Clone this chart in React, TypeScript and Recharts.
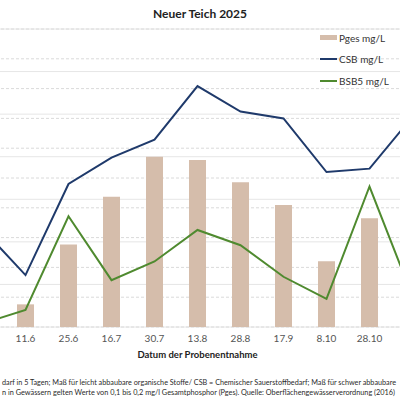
import React from "react";
import {
  ComposedChart,
  Bar,
  Line,
  XAxis,
  YAxis,
  CartesianGrid,
  Legend,
} from "recharts";

// Probenahme-Termine (erster und letzter liegen außerhalb des Ausschnitts)
const dates = ["", "11.6", "25.6", "16.7", "30.7", "13.8", "28.8", "17.9", "8.10", "28.10", " "];
const pges = [null, 0.0076, 0.0277, 0.0437, 0.0571, 0.056, 0.0486, 0.0409, 0.0221, 0.0365, null];
const csb = [11.5, 6.1, 16.8, 19.9, 22.0, 28.3, 25.3, 24.5, 18.2, 18.6, 24.7];
const bsb = [0.4, 2.0, 13.0, 5.5, 7.7, 11.4, 9.6, 5.9, 3.3, 16.5, 3.6];

const lineTicks = [0, 5, 10, 15, 20, 25, 30, 35];
const pTicks = [0, 0.01, 0.02, 0.03, 0.04, 0.05, 0.06, 0.07, 0.08, 0.09, 0.1];
const legendOrder = ["Pges mg/L", "CSB mg/L", "BSB5 mg/L"];

const data = dates.map((date, i) => ({
  date,
  pges: pges[i],
  csb: csb[i],
  bsb: bsb[i],
}));

const FONT = "Lato, 'Open Sans', sans-serif";

const LegendBox = ({ payload }: any) => {
  const items = [...(payload || [])].sort(
    (a: any, b: any) => legendOrder.indexOf(a.value) - legendOrder.indexOf(b.value)
  );
  return (
    <div style={{ fontFamily: FONT, fontSize: 10, color: "#333" }}>
      {items.map((p: any) => (
        <div key={p.value} style={{ display: "flex", alignItems: "center", height: 21.5 }}>
          <span
            style={{
              display: "inline-block",
              width: 17,
              height: p.type === "rect" ? 5 : 2,
              background: p.color,
              marginRight: 2,
            }}
          />
          {p.value}
        </div>
      ))}
    </div>
  );
};

export default function App() {
  return (
    <div
      style={{
        position: "fixed",
        left: 0,
        top: 0,
        width: 400,
        height: 400,
        overflow: "hidden",
        background: "#fff",
        fontFamily: FONT,
      }}
    >
      <div
        style={{
          position: "absolute",
          top: 6,
          left: 0,
          width: 400,
          textAlign: "center",
          fontWeight: 700,
          fontSize: 12,
          color: "#222",
        }}
      >
        Neuer Teich 2025
      </div>
      <div style={{ position: "absolute", left: -39, top: 0 }}>
        <ComposedChart
          width={473}
          height={362}
          data={data}
          margin={{ top: 29, right: 0, bottom: 4, left: 0 }}
        >
          <CartesianGrid yAxisId="l" vertical={false} stroke="#e6e6e6" />
          <CartesianGrid yAxisId="r" vertical={false} stroke="#dadada" strokeDasharray="3 2" />
          <XAxis
            dataKey="date"
            axisLine={false}
            tickLine={false}
            interval={0}
            height={31}
            tick={{ fill: "#555", fontSize: 10, fontFamily: FONT }}
            label={{
              value: "Datum der Probenentnahme",
              position: "insideBottom",
              offset: 0,
              style: { fontWeight: 700, fontSize: 9.5, fill: "#222", fontFamily: FONT },
            }}
          />
          <YAxis yAxisId="l" hide domain={[0, 35]} ticks={lineTicks} width={0} />
          <YAxis yAxisId="r" hide orientation="right" domain={[0, 0.1]} ticks={pTicks} width={0} />
          <Legend
            layout="horizontal"
            verticalAlign="middle"
            align="center"
            content={<LegendBox />}
            wrapperStyle={{ left: 359, top: 27, width: 90 }}
          />
          <Bar yAxisId="r" dataKey="pges" name="Pges mg/L" fill="#d5bdab" barSize={17} isAnimationActive={false} legendType="rect" />
          <Line yAxisId="l" dataKey="csb" name="CSB mg/L" stroke="#1f3a6b" strokeWidth={2} dot={false} type="linear" isAnimationActive={false} />
          <Line yAxisId="l" dataKey="bsb" name="BSB5 mg/L" stroke="#4f8a2f" strokeWidth={2} dot={false} type="linear" isAnimationActive={false} />
        </ComposedChart>
      </div>
      <svg
        width={400}
        height={40}
        style={{ position: "absolute", left: 0, top: 360 }}
        fontFamily={FONT}
        fontSize={8}
        fill="#2a2a2a"
      >
        <text x={2} y={24.5} textLength={394} lengthAdjust="spacingAndGlyphs">
          darf in 5 Tagen; Maß für leicht abbaubare organische Stoffe/ CSB = Chemischer Sauerstoffbedarf; Maß für schwer abbaubare
        </text>
        <text x={2} y={34.5} textLength={393} lengthAdjust="spacingAndGlyphs">
          n in Gewässern gelten Werte von 0,1 bis 0,2 mg/l Gesamtphosphor (Pges). Quelle: Oberflächengewässerverordnung (2016)
        </text>
      </svg>
    </div>
  );
}
